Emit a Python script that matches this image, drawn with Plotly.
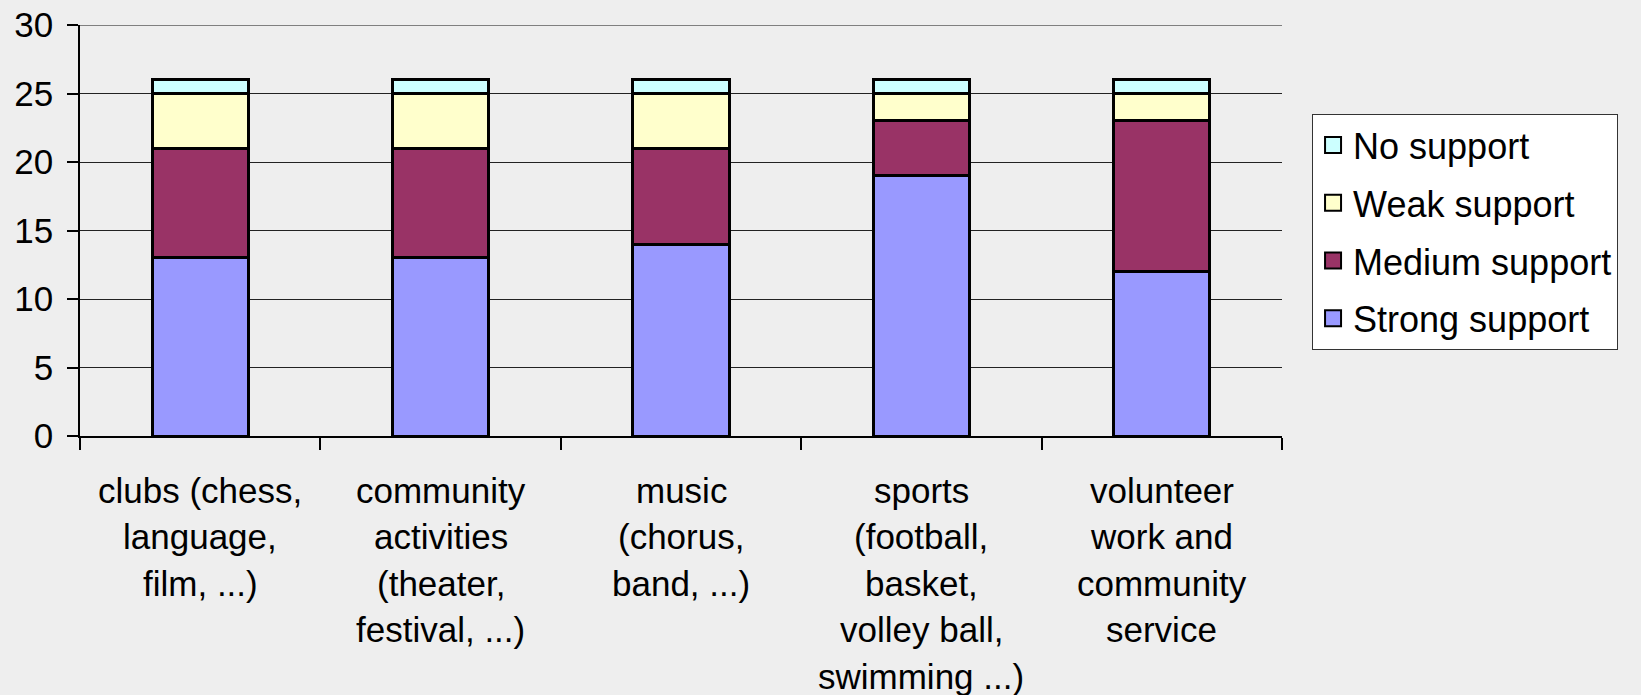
import plotly.graph_objects as go

# Activity categories (each entry is one label, split into its display lines)
category_lines = [
    ["clubs (chess,", "language,", "film, ...)"],
    ["community", "activities", "(theater,", "festival, ...)"],
    ["music", "(chorus,", "band, ...)"],
    ["sports", "(football,", "basket,", "volley ball,", "swimming ...)"],
    ["volunteer", "work and", "community", "service"],
]
categories = [" ".join(lines) for lines in category_lines]

# Counts per support level
strong_support = [13, 13, 14, 19, 12]
medium_support = [8, 8, 7, 4, 11]
weak_support = [4, 4, 4, 2, 2]
no_support = [1, 1, 1, 1, 1]

series = [
    ("Strong support", strong_support, "#9999FF"),
    ("Medium support", medium_support, "#993366"),
    ("Weak support", weak_support, "#FFFFCC"),
    ("No support", no_support, "#CCFFFF"),
]

y_max = 30

FONT = "Liberation Sans, Arial, sans-serif"
BG = "#EEEEEE"

fig = go.Figure()

for name, values, color in series:
    fig.add_trace(go.Bar(
        x=categories, y=values, name=name,
        marker=dict(color=color, line=dict(color="black", width=3)),
        width=0.4, showlegend=False,
    ))

# Legend entries with larger square swatches, top entry first
for name, values, color in reversed(series):
    fig.add_trace(go.Scatter(
        x=[None], y=[None], mode="markers", name=name, legendgroup=name,
        marker=dict(symbol="square", size=19, color=color,
                    line=dict(color="black", width=2)),
    ))

# Multi-line category labels below the axis
for cat, lines in zip(categories, category_lines):
    for i, line in enumerate(lines):
        fig.add_annotation(
            x=cat, xref="x", y=0, yref="paper",
            text=line, showarrow=False,
            yanchor="middle", xanchor="center",
            yshift=-(54 + i * 46.5),
            font=dict(family=FONT, size=35, color="black"),
        )

# Gridline along the top of the value range
fig.add_shape(type="line", xref="paper", x0=0, x1=1, yref="y", y0=y_max, y1=y_max,
              line=dict(color="#111111", width=1.2), layer="below")

fig.update_layout(
    barmode="stack",
    width=1641, height=695,
    margin=dict(l=80, r=359, t=25, b=259, autoexpand=False),
    paper_bgcolor=BG, plot_bgcolor=BG,
    font=dict(family=FONT, color="black"),
    legend=dict(
        x=1.025, y=0.7835, xanchor="left", yanchor="top",
        bgcolor="white", bordercolor="#333333", borderwidth=1,
        font=dict(family=FONT, size=36, color="black"),
        itemsizing="trace", traceorder="grouped", tracegroupgap=8,
    ),
)

fig.update_xaxes(
    type="category",
    showticklabels=False,
    showline=True, linecolor="black", linewidth=1.5,
    ticks="outside", ticklen=12, tickcolor="black", tickwidth=1.5,
    tickson="boundaries",
    showgrid=False, zeroline=False, automargin=False,
)

fig.update_yaxes(
    range=[0, y_max], tickvals=[0, 5, 10, 15, 20, 25, 30],
    showline=True, linecolor="black", linewidth=1.5,
    ticks="outside", ticklen=11, tickcolor="black", tickwidth=1.5,
    showgrid=True, gridcolor="#222222", gridwidth=1,
    zeroline=False, automargin=False,
    tickfont=dict(family=FONT, size=35, color="black"),
    ticklabelstandoff=7,
)

fig.write_html("out.html")
